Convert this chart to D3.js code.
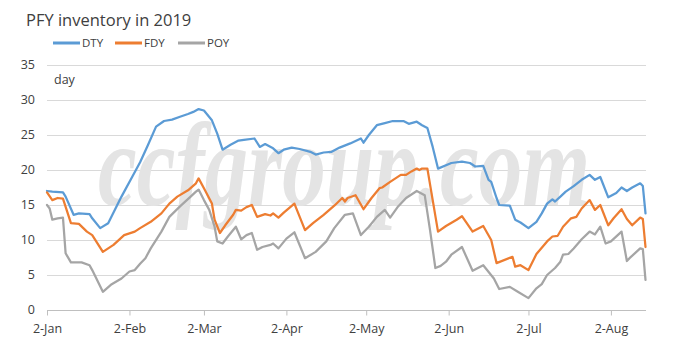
<!DOCTYPE html>
<html>
<head>
<meta charset="utf-8">
<script src="https://cdn.jsdelivr.net/npm/d3@7"></script>
<style>
  html, body { margin: 0; padding: 0; background: #fff; }
  svg { display: block; }
  text { font-family: "Open Sans", sans-serif; }
</style>
</head>
<body>
<svg id="chart" width="698" height="356"></svg>
<script>
// ---- data ----
const title = "PFY inventory in 2019";
const unitLabel = "day";
const watermark = "ccfgroup.com";
const seriesNames = ["DTY", "FDY", "POY"];
const seriesColors = ["#5b9bd5", "#ed7d31", "#a5a5a5"];
const yTicks = [0, 5, 10, 15, 20, 25, 30, 35];
const xTickDates = ["01-02", "02-02", "03-02", "04-02", "05-02", "06-02", "07-02", "08-02"];

const dtyDates = ["01-02","01-04","01-08","01-09","01-12","01-14","01-18","01-19","01-22","01-25","01-30","02-03","02-06","02-09","02-12","02-15","02-18","02-21","02-24","02-26","02-28","03-02","03-05","03-07","03-09","03-12","03-15","03-17","03-21","03-23","03-25","03-28","03-30","04-01","04-04","04-07","04-11","04-13","04-16","04-19","04-22","04-26","04-30","05-01","05-03","05-06","05-09","05-12","05-16","05-18","05-21","05-23","05-25","05-27","05-29","06-03","06-07","06-10","06-12","06-15","06-17","06-18","06-20","06-21","06-25","06-27","06-29","07-02","07-05","07-07","07-09","07-11","07-12","07-14","07-16","07-19","07-22","07-25","07-27","07-29","08-01","08-04","08-06","08-08","08-10","08-13","08-14","08-15"];
const dtyValues = [17.0,16.9,16.8,16.2,13.6,13.8,13.7,13.1,11.7,12.4,16.2,19.0,21.1,23.6,26.2,27.0,27.2,27.6,28.0,28.3,28.7,28.5,27.1,25.2,22.9,23.6,24.2,24.3,24.5,23.3,23.7,23.1,22.4,22.9,23.2,23.0,22.6,22.2,22.5,22.6,23.2,23.8,24.5,23.9,25.0,26.4,26.7,27.0,27.0,26.6,26.9,26.4,26.0,23.3,20.2,21.0,21.2,21.0,20.5,20.6,18.6,18.3,16.0,15.0,14.9,12.9,12.5,11.7,12.6,13.8,15.2,15.8,15.5,16.2,16.9,17.7,18.6,19.3,18.6,19.0,16.1,16.7,17.5,17.0,17.5,18.1,17.7,13.8];

const fdyDates = ["01-02","01-04","01-06","01-08","01-11","01-14","01-17","01-19","01-23","01-27","01-31","02-04","02-06","02-10","02-14","02-17","02-20","02-24","02-27","02-28","03-02","03-05","03-06","03-08","03-10","03-13","03-14","03-16","03-18","03-20","03-22","03-25","03-27","03-28","03-30","04-01","04-05","04-09","04-12","04-16","04-20","04-23","04-24","04-25","04-28","05-01","05-04","05-07","05-08","05-11","05-15","05-17","05-19","05-21","05-22","05-23","05-25","05-27","05-29","06-01","06-05","06-07","06-11","06-15","06-18","06-20","06-26","06-27","06-29","07-02","07-05","07-09","07-11","07-13","07-15","07-18","07-20","07-22","07-25","07-27","07-29","08-01","08-03","08-06","08-08","08-10","08-13","08-14","08-15"];
const fdyValues = [16.8,15.7,16.0,15.9,12.4,12.3,11.2,10.7,8.3,9.3,10.7,11.2,11.7,12.6,13.8,15.2,16.2,17.1,18.1,18.8,17.4,15.2,12.9,11.0,12.1,13.6,14.3,14.2,14.7,15.0,13.3,13.7,13.5,13.8,13.2,13.9,15.2,11.4,12.4,13.6,14.9,16.0,15.5,16.0,16.4,14.4,16.0,17.4,17.5,18.3,19.3,19.3,19.8,20.2,20.0,20.2,20.2,15.7,11.2,12.0,12.9,13.4,11.2,12.0,10.0,6.7,7.6,6.2,6.4,5.7,8.0,9.8,10.5,10.6,11.9,13.1,13.3,14.5,15.7,14.3,15.0,12.1,13.1,14.4,13.0,12.1,13.2,13.0,9.0];

const poyDates = ["01-02","01-03","01-04","01-06","01-08","01-09","01-11","01-15","01-18","01-19","01-23","01-26","01-30","02-02","02-04","02-06","02-08","02-10","02-14","02-17","02-21","02-25","02-27","02-28","03-02","03-04","03-06","03-07","03-09","03-11","03-14","03-16","03-18","03-20","03-22","03-24","03-27","03-28","03-30","04-02","04-05","04-09","04-13","04-17","04-20","04-24","04-27","04-30","05-03","05-06","05-09","05-11","05-14","05-17","05-21","05-24","05-26","05-28","05-30","06-01","06-03","06-07","06-11","06-15","06-19","06-21","06-25","06-28","07-02","07-05","07-07","07-09","07-12","07-14","07-15","07-17","07-19","07-22","07-25","07-27","07-29","07-31","08-02","08-06","08-08","08-09","08-13","08-14","08-15"];
const poyValues = [15.0,14.5,12.9,13.1,13.2,8.1,6.8,6.8,6.4,5.7,2.6,3.6,4.5,5.5,5.7,6.6,7.4,8.8,11.2,13.3,14.8,16.2,16.9,17.2,15.7,14.3,11.9,9.8,9.5,10.5,11.9,10.1,10.7,11.0,8.6,9.0,9.3,9.5,8.8,10.2,11.1,7.4,8.3,9.8,11.7,13.6,13.8,10.7,11.9,13.3,14.3,13.2,14.8,16.0,17.0,16.4,11.4,6.0,6.3,6.9,7.9,9.0,5.6,6.4,4.5,3.0,3.3,2.6,1.7,3.1,3.7,5.0,6.0,6.9,7.9,8.0,8.8,10.1,11.2,10.8,11.9,9.5,9.8,11.2,7.0,7.4,8.8,8.7,4.3];

// ---- build ----
const parse = s => d3.timeParse("%Y-%m-%d")("2019-" + s);
const series = [
  { name: seriesNames[0], color: seriesColors[0], pts: dtyDates.map((d, i) => ({ date: parse(d), v: dtyValues[i] })) },
  { name: seriesNames[1], color: seriesColors[1], pts: fdyDates.map((d, i) => ({ date: parse(d), v: fdyValues[i] })) },
  { name: seriesNames[2], color: seriesColors[2], pts: poyDates.map((d, i) => ({ date: parse(d), v: poyValues[i] })) }
];

const svg = d3.select("#chart");
svg.append("rect").attr("width", 698).attr("height", 356).attr("fill", "#fff");

const x = d3.scaleTime().domain([parse("01-02"), parse("08-15")]).range([47, 645.5]);
const y = d3.scaleLinear().domain([0, 35]).range([310, 65]);

// gridlines
svg.append("g").selectAll("line").data(yTicks.filter(t => t > 0)).join("line")
  .attr("x1", 47).attr("x2", 646)
  .attr("y1", d => y(d) + 0.5).attr("y2", d => y(d) + 0.5)
  .attr("stroke", "#d9d9d9").attr("stroke-width", 1);

// watermark (condensed via horizontal scale)
svg.append("text")
  .attr("transform", "translate(98,205) scale(0.74,1)")
  .style("font-family", "'Liberation Serif', serif")
  .style("font-style", "italic")
  .style("font-weight", "bold")
  .style("font-size", "118px")
  .attr("fill", "#e4e4e4")
  .text(watermark);

// y labels
svg.append("g").selectAll("text").data(yTicks).join("text")
  .attr("x", 35).attr("y", d => y(d)).attr("dy", "0.35em")
  .attr("text-anchor", "end")
  .style("font-size", "12.5px").attr("fill", "#404040")
  .text(d => d);

// x axis
const xAxis = d3.axisBottom(x)
  .tickValues(xTickDates.map(parse))
  .tickFormat(d3.timeFormat("%-d-%b"))
  .tickSize(5).tickPadding(9);
const gx = svg.append("g").attr("transform", "translate(0,310.5)").call(xAxis);
gx.select(".domain").attr("d", "M47,0H646").attr("stroke", "#bfbfbf");
gx.selectAll(".tick line").attr("stroke", "#bfbfbf");
gx.selectAll(".tick text").style("font-size", "12.5px").style("font-family", "'Open Sans', sans-serif").attr("fill", "#404040");

// unit label
svg.append("text").attr("x", 54).attr("y", 84)
  .style("font-size", "12.5px").attr("fill", "#404040").text(unitLabel);

// lines
const line = d3.line().x(d => x(d.date)).y(d => y(d.v));
svg.append("g").selectAll("path").data(series).join("path")
  .attr("d", d => line(d.pts))
  .attr("fill", "none")
  .attr("stroke", d => d.color)
  .attr("stroke-width", 2.25)
  .attr("stroke-linejoin", "round")
  .attr("stroke-linecap", "round");

// title
svg.append("text").attr("x", 26).attr("y", 26)
  .style("font-size", "16.5px").attr("fill", "#404040").text(title);

// legend
const legendX = [53, 115, 178];
const lg = svg.append("g").selectAll("g").data(series).join("g")
  .attr("transform", (d, i) => `translate(${legendX[i]},43)`);
lg.append("line").attr("x1", 0).attr("x2", 27).attr("y1", 0).attr("y2", 0)
  .attr("stroke", d => d.color).attr("stroke-width", 3);
lg.append("text").attr("x", 29).attr("y", 0).attr("dy", "0.35em")
  .style("font-size", "11.5px").attr("fill", "#404040").text(d => d.name);
</script>
</body>
</html>
